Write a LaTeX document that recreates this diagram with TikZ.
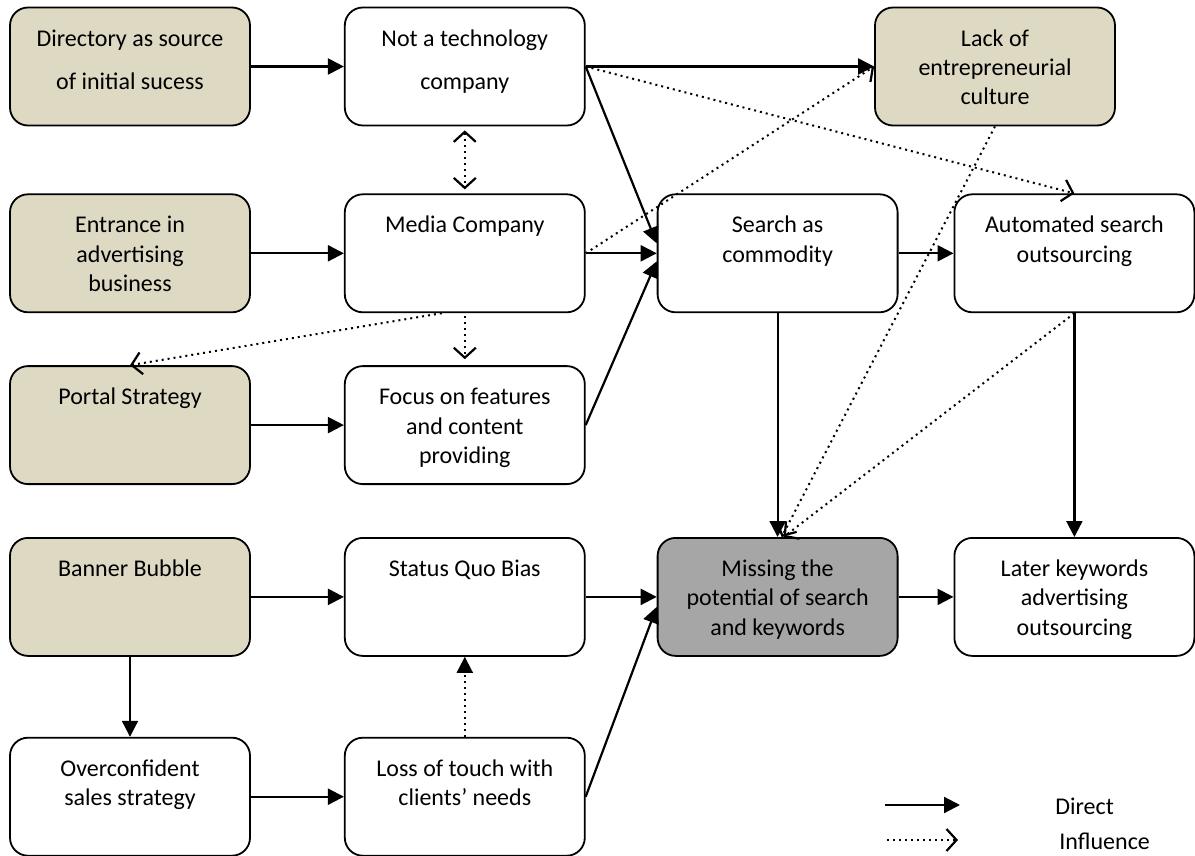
\documentclass[tikz,border=0pt]{standalone}
\usepackage{fontspec}
\setmainfont{Carlito}
\usetikzlibrary{arrows.meta, positioning}
\definecolor{tanfill}{HTML}{DDD9C3}
\definecolor{keyfill}{HTML}{A6A6A6}
\newcommand{\factortext}[1]{\parbox[c][59pt][t]{118pt}{\centering\vspace*{9pt}\strut #1}}
\tikzset{
    factor/.style={rectangle, rounded corners=9pt, minimum width=120pt, minimum height=59pt, inner sep=0pt, draw=black, line width=0.9pt, fill=white, font=\fontsize{12}{14.7}\selectfont},
    origin/.style={factor, fill=tanfill},
    outcome/.style={factor, fill=keyfill},
    legendtext/.style={anchor=west, inner sep=0pt, font=\fontsize{12}{14.7}\selectfont},
    direct/.style={line width=1.1pt, >={Triangle[length=8pt, width=8pt]}, ->},
    influence/.style={line width=1pt, dash pattern=on 1pt off 2pt, >={Straight Barb[length=5pt, width=11pt, line width=1.1pt]}, ->}
}
\begin{document}
\begin{tikzpicture}[x=0.5pt, y=-0.5pt]
    \useasboundingbox (0,0) rectangle (1195,856);

    \node (directory) [origin] at (130,66.5) {\factortext{Directory as source\\[7pt]of initial sucess}};
    \node (nottech) [factor, right=46.5pt of directory] {\factortext{Not a technology\\[7pt]company}};
    \node (lack) [origin] at (995,66.5) {\factortext{Lack of\\entrepreneurial\\culture}};

    \node (entrance) [origin, below=33.5pt of directory] {\factortext{Entrance in\\advertising\\business}};
    \node (media) [factor, below=33.5pt of nottech] {\factortext{Media Company}};
    \node (search) [factor, right=35.5pt of media] {\factortext{Search as\\commodity}};
    \node (auto) [factor, right=27.5pt of search] {\factortext{Automated search\\outsourcing}};

    \node (portal) [origin, below=26pt of entrance] {\factortext{Portal Strategy}};
    \node (focus) [factor, below=26pt of media] {\factortext{Focus on features\\and content\\providing}};

    \node (banner) [origin, below=26pt of portal] {\factortext{Banner Bubble}};
    \node (status) [factor, below=26pt of focus] {\factortext{Status Quo Bias}};
    \node (missing) [outcome, right=35.5pt of status] {\factortext{Missing the\\potential of search\\and keywords}};
    \node (later) [factor, right=27.5pt of missing] {\factortext{Later keywords\\advertising\\outsourcing}};

    \node (overconf) [factor, below=40pt of banner] {\factortext{Overconfident\\sales strategy}};
    \node (loss) [factor, below=40pt of status] {\factortext{Loss of touch with\\clients’ needs}};

    \draw [direct] (directory) -- (nottech);
    \draw [direct] (nottech) -- (lack);
    \draw [direct] (nottech.east) -- ([yshift=5pt]search.west);
    \draw [influence] (nottech.east) -- (auto.north);
    \draw [influence, <->, shorten <=2pt, shorten >=2pt] (nottech) -- (media);
    \draw [direct] (entrance) -- (media);
    \draw [direct] (media) -- (search);
    \draw [influence] (media.east) -- (lack.west);
    \draw [influence] ([xshift=-11.5pt]media.south) -- (portal.north);
    \draw [influence, shorten <=1.5pt, shorten >=3pt] (media) -- (focus);
    \draw [direct] (portal) -- (focus);
    \draw [direct] (focus.east) -- ([yshift=-4pt]search.west);
    \draw [direct] (search) -- (auto);
    \draw [direct] (search) -- (missing);
    \draw [influence] (lack.south) -- ([xshift=2pt]missing.north);
    \draw [influence] (auto.south) -- ([xshift=3pt]missing.north);
    \draw [direct] (auto) -- (later);
    \draw [direct] (banner) -- (status);
    \draw [direct] (banner) -- (overconf);
    \draw [direct] (overconf) -- (loss);
    \draw [influence, -{Triangle[length=8pt, width=8pt]}] (loss) -- (status);
    \draw [direct] (status) -- (missing);
    \draw [direct] (loss.east) -- ([yshift=-5pt]missing.west);
    \draw [direct] (missing) -- (later);

    \coordinate (directfrom) at (885,805);
    \coordinate (directto) at (960,805);
    \coordinate (influencefrom) at (887,840);
    \coordinate (influenceto) at (958,840);
    \draw [direct] (directfrom) -- (directto);
    \draw [influence] (influencefrom) -- (influenceto);
    \node (directlabel) [legendtext] at (1055,806) {Direct};
    \node (influencelabel) [legendtext] at (1059,841) {Influence};
\end{tikzpicture}
\end{document}
